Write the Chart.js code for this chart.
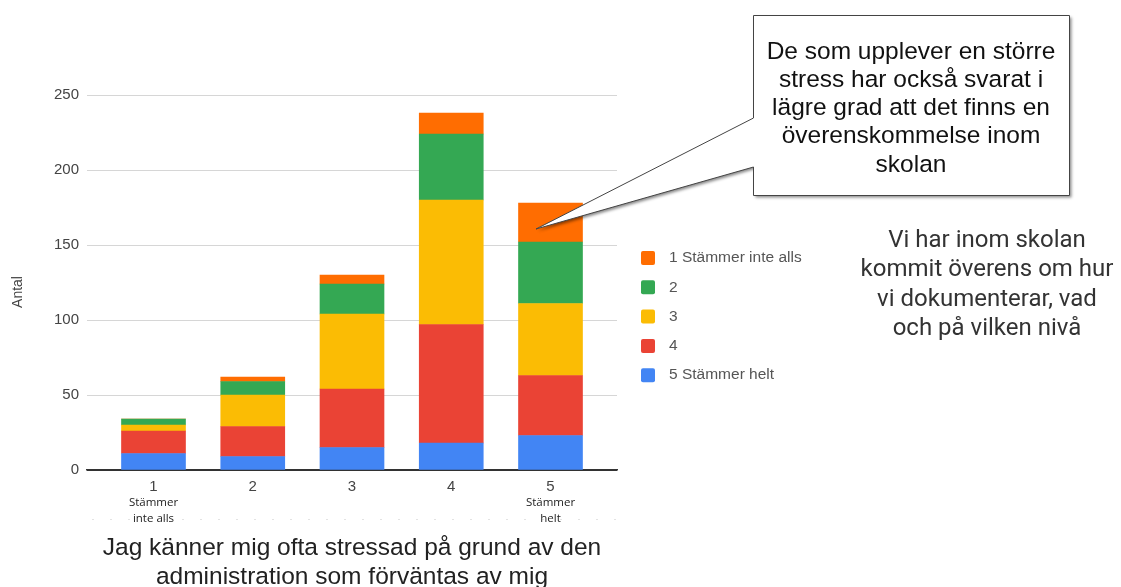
<!DOCTYPE html>
<html>
<head>
<meta charset="utf-8">
<script src="https://cdn.jsdelivr.net/npm/chart.js@4.4.0/dist/chart.umd.min.js"></script>
<style>
  html, body { margin: 0; padding: 0; background: #fff; }
  #wrap { width: 1121px; height: 587px; }
</style>
</head>
<body>
<div id="wrap"><canvas id="chart" width="1121" height="587"></canvas></div>
<script>
// svarsalternativ på x-axeln och antal svar per staplad serie
var categories = [1, 2, 3, 4, 5];
var categoryNotes = [["Stämmer", "inte alls"], [], [], [], ["Stämmer", "helt"]];

var seriesNames = ["5 Stämmer helt", "4", "3", "2", "1 Stämmer inte alls"];
var seriesColors = ["#4285f4", "#ea4335", "#fbbc04", "#34a853", "#ff6d01"];

var svarHelt = [11, 9, 15, 18, 23];
var svarFyra = [15, 20, 39, 79, 40];
var svarTre = [4, 21, 50, 83, 48];
var svarTva = [4, 9, 20, 44, 41];
var svarInteAlls = [0, 3, 6, 14, 26];

var yTicks = [0, 50, 100, 150, 200, 250];

var xTitle = ["Jag känner mig ofta stressad på grund av den", "administration som förväntas av mig"];
var calloutLines = ["De som upplever en större", "stress har också svarat i", "lägre grad att det finns en", "överenskommelse inom", "skolan"];
var sideLines = ["Vi har inom skolan", "kommit överens om hur", "vi dokumenterar, vad", "och på vilken nivå"];

var series = [svarHelt, svarFyra, svarTre, svarTva, svarInteAlls];

var datasets = series.map(function (vals, i) {
    return {
        label: seriesNames[i],
        backgroundColor: seriesColors[i],
        borderWidth: 0,
        barThickness: 64,
        data: vals.map(function (v, j) { return { x: categories[j], y: v }; })
    };
});

var ARIAL = "'Liberation Sans', Arial, sans-serif";

// legend, rutan med pil och texten till höger ritas här
var extras = {
    id: "extras",
    afterDraw: function (chart) {
        var ctx = chart.ctx;
        var xs = chart.scales.x;
        ctx.save();

        // svag prickad linje under skalan
        ctx.strokeStyle = "#e3e3e3";
        ctx.lineWidth = 1;
        ctx.setLineDash([2, 16]);
        ctx.beginPath();
        ctx.moveTo(92, 519.5);
        ctx.lineTo(617, 519.5);
        ctx.stroke();
        ctx.setLineDash([]);

        // förklaring under 1 och 5
        ctx.fillStyle = "#222";
        ctx.font = "11.5px 'Open Sans', sans-serif";
        ctx.textAlign = "center";
        ctx.textBaseline = "middle";
        categories.forEach(function (c, i) {
            var px = xs.getPixelForValue(c);
            categoryNotes[i].forEach(function (t, k) {
                ctx.fillText(t, px, 503 + k * 16);
            });
        });

        // y-axelns rubrik
        ctx.save();
        ctx.translate(18, 292);
        ctx.rotate(-Math.PI / 2);
        ctx.fillStyle = "#444";
        ctx.font = "14px " + ARIAL;
        ctx.fillText("Antal", 0, 0);
        ctx.restore();

        // legend, översta serien först
        ctx.textAlign = "left";
        ctx.font = "15.5px " + ARIAL;
        var ds = chart.data.datasets;
        for (var k = 0; k < ds.length; k++) {
            var d = ds[ds.length - 1 - k];
            var cy = 258 + k * 29.3;
            ctx.fillStyle = d.backgroundColor;
            ctx.beginPath();
            ctx.roundRect(641, cy - 7, 14, 14, 2);
            ctx.fill();
            ctx.fillStyle = "#555";
            ctx.fillText(d.label, 669, cy);
        }

        // text till höger
        ctx.textAlign = "center";
        ctx.fillStyle = "#333";
        ctx.font = "24px Roboto, sans-serif";
        sideLines.forEach(function (t, i) {
            ctx.fillText(t, 987, 241 + i * 29.3);
        });

        // pratbubbla som pekar på stapel 5
        ctx.beginPath();
        ctx.moveTo(753.5, 15.5);
        ctx.lineTo(1069.5, 15.5);
        ctx.lineTo(1069.5, 195.5);
        ctx.lineTo(753.5, 195.5);
        ctx.lineTo(753.5, 167);
        ctx.lineTo(536, 229);
        ctx.lineTo(753.5, 118);
        ctx.closePath();
        ctx.save();
        ctx.shadowColor = "rgba(0,0,0,0.45)";
        ctx.shadowBlur = 3;
        ctx.shadowOffsetX = 2;
        ctx.shadowOffsetY = 2;
        ctx.fillStyle = "#fff";
        ctx.fill();
        ctx.restore();
        ctx.strokeStyle = "#444";
        ctx.lineWidth = 1;
        ctx.stroke();

        ctx.fillStyle = "#111";
        ctx.font = "24.5px " + ARIAL;
        calloutLines.forEach(function (t, i) {
            ctx.fillText(t, 911, 52 + i * 28.2);
        });

        ctx.restore();
    }
};

new Chart(document.getElementById("chart"), {
    type: "bar",
    data: { datasets: datasets },
    options: {
        responsive: false,
        animation: false,
        layout: { padding: { top: 95, right: 504, bottom: 0, left: 0 } },
        plugins: {
            legend: { display: false },
            tooltip: { enabled: false }
        },
        scales: {
            x: {
                type: "linear",
                stacked: true,
                min: 0.33,
                max: 5.67,
                offset: false,
                afterBuildTicks: function (scale) {
                    scale.ticks = categories.map(function (c) { return { value: c }; });
                },
                afterFit: function (scale) { scale.height = 117; },
                grid: { display: false, drawTicks: false },
                border: { color: "#333", width: 1.5 },
                ticks: {
                    color: "#444",
                    font: { family: ARIAL, size: 15 },
                    padding: 8,
                    maxRotation: 0,
                    callback: function (v) { return String(v); }
                },
                title: {
                    display: true,
                    text: xTitle,
                    color: "#222",
                    font: { family: ARIAL, size: 24.5, lineHeight: 1.15 },
                    padding: { top: 0, bottom: -4 }
                }
            },
            y: {
                stacked: true,
                min: 0,
                max: 250,
                afterBuildTicks: function (scale) {
                    scale.ticks = yTicks.map(function (v) { return { value: v }; });
                },
                afterFit: function (scale) { scale.width = 87; },
                grid: {
                    drawTicks: false,
                    color: function (c) { return c.tick && c.tick.value === 0 ? "#333" : "#d6d6d6"; }
                },
                border: { display: false },
                ticks: {
                    color: "#444",
                    font: { family: ARIAL, size: 15 },
                    padding: 8
                }
            }
        }
    },
    plugins: [extras]
});
</script>
</body>
</html>
